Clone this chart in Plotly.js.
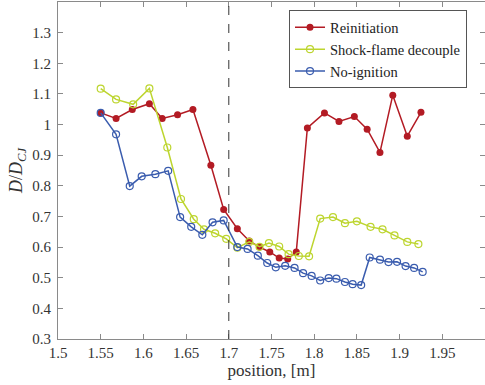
<!DOCTYPE html>
<html>
<head>
<meta charset="utf-8">
<script src="https://cdn.plot.ly/plotly-3.0.1.min.js"></script>
<style>html,body{margin:0;padding:0;background:#fff;}#chart{width:485px;height:385px;}</style>
</head>
<body>
<div id="chart"></div>
<script>
const reinitX = [1.550,1.568,1.587,1.607,1.622,1.640,1.658,1.679,1.694,1.710,1.724,1.736,1.748,1.759,1.769,1.779,1.792,1.812,1.829,1.847,1.862,1.877,1.892,1.909,1.925];
const reinitY = [1.038,1.020,1.049,1.068,1.020,1.032,1.049,0.867,0.723,0.660,0.620,0.600,0.584,0.564,0.561,0.584,0.989,1.038,1.010,1.026,0.985,0.909,1.096,0.962,1.040];

const decoupleX = [1.550,1.568,1.588,1.607,1.628,1.644,1.659,1.671,1.684,1.697,1.710,1.724,1.736,1.747,1.759,1.770,1.782,1.794,1.807,1.822,1.836,1.850,1.866,1.880,1.894,1.909,1.922];
const decoupleY = [1.117,1.082,1.066,1.118,0.925,0.757,0.691,0.658,0.645,0.627,0.598,0.617,0.601,0.613,0.602,0.577,0.571,0.570,0.693,0.698,0.678,0.684,0.666,0.658,0.638,0.617,0.610];

const noIgnX = [1.550,1.568,1.584,1.598,1.614,1.629,1.643,1.656,1.669,1.681,1.694,1.710,1.722,1.734,1.745,1.755,1.766,1.777,1.787,1.797,1.807,1.817,1.826,1.836,1.845,1.855,1.865,1.877,1.887,1.897,1.907,1.917,1.927];
const noIgnY = [1.038,0.968,0.799,0.831,0.838,0.849,0.698,0.666,0.640,0.681,0.687,0.600,0.594,0.572,0.548,0.534,0.539,0.532,0.515,0.506,0.491,0.499,0.497,0.486,0.479,0.476,0.566,0.559,0.551,0.552,0.538,0.532,0.519];

const xTicks = [1.5,1.55,1.6,1.65,1.7,1.75,1.8,1.85,1.9,1.95,2];
const yTicks = [0.3,0.4,0.5,0.6,0.7,0.8,0.9,1,1.1,1.2,1.3];
const dividerX = 1.7;

const red = '#b31b24', green = '#bdd52f', blue = '#3a5cae';
const serif = 'Liberation Serif';

const traces = [
  {x: reinitX, y: reinitY, name: 'Reinitiation', type: 'scatter', mode: 'lines+markers',
   line: {color: red, width: 1.5}, marker: {color: red, size: 7, symbol: 'circle'}},
  {x: decoupleX, y: decoupleY, name: 'Shock-flame decouple', type: 'scatter', mode: 'lines+markers',
   line: {color: green, width: 1.5}, marker: {color: green, size: 7, symbol: 'circle-open', line: {width: 1.2}}},
  {x: noIgnX, y: noIgnY, name: 'No-ignition', type: 'scatter', mode: 'lines+markers',
   line: {color: blue, width: 1.5}, marker: {color: blue, size: 7, symbol: 'circle-open', line: {width: 1.2}}}
];

const axisCommon = {
  showgrid: false, zeroline: false, showline: true, mirror: 'ticks',
  linecolor: '#8a8a8a', linewidth: 1, ticks: 'inside', ticklen: 5, tickcolor: '#8a8a8a',
  tickfont: {family: serif, size: 15, color: '#333'}
};

const layout = {
  width: 485, height: 385,
  margin: {l: 58, r: 0, t: 2, b: 46},
  paper_bgcolor: '#fff', plot_bgcolor: '#fff',
  showlegend: true,
  font: {family: serif, color: '#333'},
  xaxis: Object.assign({}, axisCommon, {
    range: [1.5, 2.0], tickvals: xTicks, ticktext: xTicks.map(v => String(v)),
    title: {text: 'position, [m]', font: {family: serif, size: 17, color: '#333'}, standoff: 2}
  }),
  yaxis: Object.assign({}, axisCommon, {
    range: [0.3, 1.4], tickvals: yTicks, ticktext: yTicks.map(v => String(v)),
    ticklabelstandoff: 3,
    title: {text: '<i>D</i>/<i>D</i><sub><i>CJ</i></sub>', font: {family: serif, size: 18, color: '#333'}, standoff: 4}
  }),
  legend: {
    x: 0.541, y: 0.975, xanchor: 'left', yanchor: 'top',
    bgcolor: '#fff', bordercolor: '#555', borderwidth: 1,
    font: {family: serif, size: 14.5, color: '#222'},
    tracegroupgap: 0, itemwidth: 30
  },
  shapes: [{
    type: 'line', xref: 'x', yref: 'paper', x0: dividerX, x1: dividerX, y0: 0, y1: 1,
    line: {color: '#333', width: 1, dash: 'dash'}
  }]
};

Plotly.newPlot('chart', traces, layout, {displayModeBar: false, staticPlot: true});
</script>
</body>
</html>
